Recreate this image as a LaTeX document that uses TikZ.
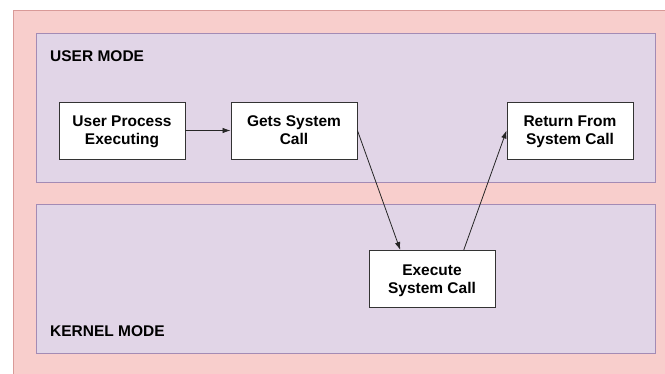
\documentclass[tikz,border=0pt]{standalone}
\usepackage{fontspec}
\setmainfont{Liberation Sans}
\usetikzlibrary{arrows.meta,calc}
\definecolor{outerfill}{HTML}{F8CECC}
\definecolor{outerline}{HTML}{D99A98}
\definecolor{modefill}{HTML}{E1D5E7}
\definecolor{modeline}{HTML}{A38BB5}
\begin{document}
\begin{tikzpicture}[x=1pt,y=-1pt,
    font=\fontsize{15.5}{18}\selectfont\bfseries,
    stepbox/.style={draw=black!80,fill=white,line width=0.9pt,
        minimum width=126pt,minimum height=57pt,align=center,inner sep=0pt,
        text depth=-2pt},
    modebox/.style={draw=modeline,fill=modefill,line width=1pt},
    flow/.style={line width=0.8pt,black!85,-{Latex[length=8pt,width=5.5pt]}}]
    \useasboundingbox (0,0) rectangle (665,373);
    % background layers
    \draw[draw=outerline,fill=outerfill,line width=1pt] (13,10) rectangle (668,376);
    \draw[modebox] (36,33) rectangle (655,182);
    \draw[modebox] (36,204) rectangle (655,353);
    \node[anchor=base west,inner sep=0pt] (usermode) at (50,61.5) {USER MODE};
    \node[anchor=base west,inner sep=0pt] (kernelmode) at (50,336) {KERNEL MODE};
    % steps
    \node[stepbox] (user) at (122,130.5) {User Process\\Executing};
    \node[stepbox] (gets) at (294,130.5) {Gets System\\Call};
    \node[stepbox] (ret) at (570,130.5) {Return From\\System Call};
    \node[stepbox] (exec) at (432,279) {Execute\\System Call};
    % connectors
    \draw[flow] (user) -- (gets);
    \draw[flow] (gets.east) -- ($(exec.north west)!0.25!(exec.north east)$);
    \draw[flow] ($(exec.north west)!0.75!(exec.north east)$) -- (ret.west);
\end{tikzpicture}
\end{document}
